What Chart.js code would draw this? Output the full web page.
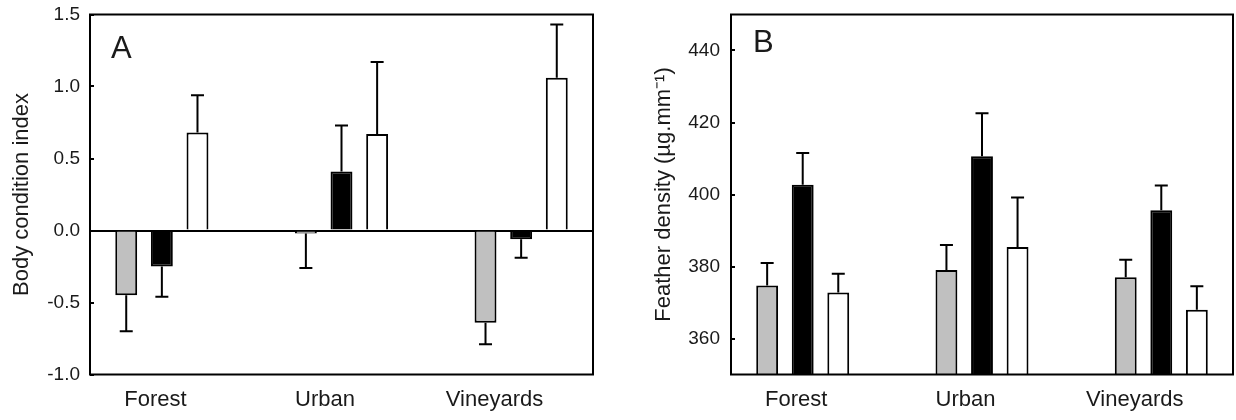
<!DOCTYPE html>
<html>
<head>
<meta charset="utf-8">
<script src="https://cdn.jsdelivr.net/npm/chart.js@4.4.1/dist/chart.umd.min.js"></script>
<style>
  html, body { margin: 0; padding: 0; background: #fff; }
  body { width: 1236px; height: 420px; position: relative; overflow: hidden; }
  .panel { position: absolute; top: 0; height: 420px; }
  #wrapA { left: 0; width: 600px; }
  #wrapB { left: 620px; width: 616px; }
</style>
</head>
<body>
<div class="panel" id="wrapA"><canvas id="chartA"></canvas></div>
<div class="panel" id="wrapB"><canvas id="chartB"></canvas></div>
<script>
// ---- data ----
const categories = ['Forest', 'Urban', 'Vineyards'];
const seriesNames = ['Group 1', 'Group 2', 'Group 3'];

const bodyGray = [-0.45, -0.02, -0.64];
const bodyGrayErr = [0.25, 0.24, 0.15];
const bodyBlack = [-0.25, 0.41, -0.06];
const bodyBlackErr = [0.21, 0.32, 0.13];
const bodyWhite = [0.68, 0.67, 1.06];
const bodyWhiteErr = [0.26, 0.50, 0.37];

const featherGray = [374.7, 379.0, 377.0];
const featherGrayErr = [6.3, 7.0, 4.9];
const featherBlack = [402.7, 410.6, 395.6];
const featherBlackErr = [8.8, 12.0, 6.9];
const featherWhite = [372.8, 385.4, 368.0];
const featherWhiteErr = [5.2, 13.8, 6.5];

const bodyTicks = [-1.0, -0.5, 0.0, 0.5, 1.0, 1.5];
const featherTicks = [360, 380, 400, 420, 440];

// ---- styling ----
const FONT = '"Liberation Sans", Arial, Helvetica, sans-serif';
const TEXT = '#1a1a1a';
const fills = ['#c0c0c0', '#000000', '#ffffff'];

const errorBars = {
  id: 'errorBars',
  afterDatasetsDraw(chart) {
    const ctx = chart.ctx;
    const yScale = chart.scales.y;
    ctx.save();
    ctx.strokeStyle = '#000';
    ctx.lineWidth = 2;
    chart.data.datasets.forEach((ds, i) => {
      const meta = chart.getDatasetMeta(i);
      meta.data.forEach((bar, j) => {
        const v = ds.data[j].y;
        const e = ds.errors[j];
        const end = v >= 0 ? v + e : v - e;
        const y0 = yScale.getPixelForValue(v);
        const y1 = yScale.getPixelForValue(end);
        ctx.beginPath();
        ctx.moveTo(bar.x, y0);
        ctx.lineTo(bar.x, y1);
        ctx.moveTo(bar.x - 6.5, y1);
        ctx.lineTo(bar.x + 6.5, y1);
        ctx.stroke();
      });
    });
    ctx.restore();
  }
};

const frame = {
  id: 'frame',
  afterDraw(chart, args, opts) {
    const {ctx, chartArea: a} = chart;
    ctx.save();
    ctx.strokeStyle = '#000';
    ctx.lineWidth = 2;
    ctx.strokeRect(a.left, a.top, a.right - a.left, a.bottom - a.top);
    ctx.fillStyle = TEXT;
    ctx.font = '31px ' + FONT;
    ctx.textBaseline = 'alphabetic';
    ctx.textAlign = 'left';
    ctx.fillText(opts.letter, opts.lx, opts.ly);
    ctx.restore();
  }
};

function makeChart(id, series, errs, ticks, cfg) {
  const datasets = series.map((vals, i) => ({
    label: seriesNames[i],
    xAxisID: 'x',
    data: vals.map((v, k) => ({x: k, y: v})),
    errors: errs[i],
    backgroundColor: fills[i],
    borderColor: '#000',
    borderWidth: 2,
    categoryPercentage: 0.595,
    barPercentage: 0.615
  }));
  const labelPos = [-0.036, 0.908, 1.852];
  return new Chart(document.getElementById(id), {
    type: 'bar',
    data: { datasets },
    plugins: [errorBars, frame],
    options: {
      responsive: true,
      maintainAspectRatio: false,
      animation: false,
      layout: { padding: { left: 0, top: 14.5, right: cfg.padRight, bottom: 0 } },
      plugins: {
        legend: { display: false },
        tooltip: { enabled: false },
        frame: { letter: cfg.letter, lx: cfg.lx, ly: cfg.ly }
      },
      scales: {
        x: {
          type: 'linear',
          display: false,
          offset: false,
          min: -0.4, max: 2.4,
          afterBuildTicks: s => { s.ticks = categories.map((c, k) => ({value: k})); }
        },
        xl: {
          type: 'linear',
          position: 'bottom',
          offset: false,
          min: -0.4, max: 2.4,
          afterBuildTicks: s => { s.ticks = labelPos.map(v => ({value: v})); },
          afterFit: s => { s.height = 45.5; s.paddingLeft = 0; s.paddingRight = 0; },
          grid: { display: false, offset: false },
          border: { display: false },
          ticks: {
            autoSkip: false, maxRotation: 0, padding: 4.5,
            color: TEXT, font: { family: FONT, size: 22 },
            callback: (v, i) => categories[i]
          }
        },
        y: {
          type: 'linear',
          position: 'left',
          min: cfg.min, max: cfg.max,
          afterBuildTicks: s => { s.ticks = ticks.map(v => ({value: v})); },
          afterFit: s => { s.width = cfg.axisW; s.paddingTop = 0; s.paddingBottom = 0; },
          border: { display: false },
          grid: {
            drawOnChartArea: true,
            lineWidth: 2,
            color: c => (cfg.zeroLine && c.tick && c.tick.value === 0) ? '#000' : 'rgba(0,0,0,0)',
            tickColor: '#000',
            tickWidth: 2,
            tickLength: -4
          },
          ticks: {
            padding: cfg.tickPad,
            color: TEXT,
            font: { family: FONT, size: 19 },
            callback: v => cfg.fmt(v)
          },
          title: {
            display: true,
            text: cfg.title,
            color: TEXT,
            font: { family: FONT, size: 22 },
            padding: { top: cfg.titlePad, bottom: 0 }
          }
        }
      }
    }
  });
}

makeChart('chartA',
  [bodyGray, bodyBlack, bodyWhite],
  [bodyGrayErr, bodyBlackErr, bodyWhiteErr],
  bodyTicks,
  { min: -1.0, max: 1.5, padRight: 7, axisW: 90, tickPad: 14, titlePad: 8.5,
    title: 'Body condition index', zeroLine: true, fmt: v => v.toFixed(1),
    letter: 'A', lx: 111, ly: 58 });

makeChart('chartB',
  [featherGray, featherBlack, featherWhite],
  [featherGrayErr, featherBlackErr, featherWhiteErr],
  featherTicks,
  { min: 350, max: 450, padRight: 3, axisW: 111, tickPad: 15, titlePad: 30.8,
    title: 'Feather density (µg.mm⁻¹)', zeroLine: false, fmt: v => String(v),
    letter: 'B', lx: 133, ly: 52 });
</script>
</body>
</html>
